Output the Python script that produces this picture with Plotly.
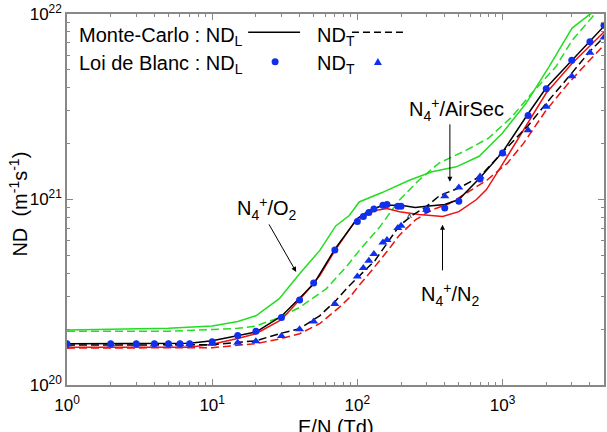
import plotly.graph_objects as go
import math

# ---------------- data ----------------
# Monte-Carlo, N4+/O2 (green)
EN_O2_L = [1, 2, 5, 10, 15, 20, 29, 40, 55, 71, 88, 103, 148, 228, 327, 480, 690, 993, 1453, 2093, 3013, 3945, 5000]
ND_O2_L = [1.98e20, 2.0e20, 2.02e20, 2.08e20, 2.2e20, 2.36e20, 2.92e20, 3.98e20, 5.3e20, 7.2e20, 8.2e20, 9.7e20,
           1.09e21, 1.27e21, 1.41e21, 1.50e21, 1.71e21, 2.27e21, 3.3e21, 5.2e21, 8.4e21, 9.9e21, 1.1e22]
EN_O2_T = [1, 5, 10, 15, 20, 29, 40, 61, 83, 103, 142, 194, 265, 365, 560, 800, 1160, 1590, 2330, 3013, 4180, 5000]
ND_O2_T = [1.95e20, 1.95e20, 1.99e20, 2.02e20, 2.08e20, 2.31e20, 2.62e20, 3.3e20, 4.3e20, 5.3e20, 7.08e20, 9.9e20,
           1.27e21, 1.57e21, 1.84e21, 2.14e21, 2.79e21, 3.74e21, 5.2e21, 7.2e21, 9.7e21, 1.15e22]

# Monte-Carlo, N4+/N2 (red)
EN_N2_L = [1, 7, 10, 15, 20, 30, 40, 55, 70, 95, 130, 160, 195, 266, 387, 500, 662, 775, 1000, 1450, 2000, 3000, 4200, 5000]
ND_N2_L = [1.60e20, 1.60e20, 1.66e20, 1.78e20, 1.89e20, 2.25e20, 2.88e20, 3.88e20, 5.3e20, 7.5e20, 8.7e20, 8.95e20,
           8.6e20, 8.3e20, 8.1e20, 8.6e20, 1.0e21, 1.13e21, 1.55e21, 2.5e21, 3.75e21, 5.4e21, 6.97e21, 8.0e21]
EN_N2_T = [1, 10, 20, 29, 40, 55, 75, 88, 103, 121, 165, 194, 253, 327, 430, 560, 780, 1080, 1390, 1980, 2820, 3780, 5000]
ND_N2_T = [1.58e20, 1.59e20, 1.67e20, 1.77e20, 1.89e20, 2.14e20, 2.62e20, 2.95e20, 3.45e20, 4.0e20, 5.4e20, 6.4e20,
           7.8e20, 8.8e20, 9.5e20, 1.08e21, 1.27e21, 1.57e21, 2.0e21, 3.0e21, 4.2e21, 5.4e21, 6.8e21]

# Monte-Carlo, N4+/AirSec (black)
EN_AIR_L = [1, 7, 10, 15, 20, 30, 40, 50, 70, 100, 120, 150, 200, 250, 300, 400, 500, 700, 1000, 1500, 2000, 3000, 4000, 5000]
ND_AIR_L = [1.67e20, 1.68e20, 1.73e20, 1.84e20, 1.93e20, 2.35e20, 2.96e20, 3.5e20, 5.4e20, 7.9e20, 8.7e20, 9.3e20,
            9.3e20, 9.05e20, 9.2e20, 9.4e20, 1.0e21, 1.31e21, 1.80e21, 2.9e21, 4.0e21, 5.6e21, 7.1e21, 8.6e21]
EN_AIR_T = [1, 10, 14, 20, 29, 40, 55, 71, 88, 103, 132, 165, 194, 238, 295, 369, 508, 700, 1000, 1500, 2000, 3000, 4000, 5000]
ND_AIR_T = [1.64e20, 1.65e20, 1.69e20, 1.73e20, 1.89e20, 2.01e20, 2.36e20, 2.85e20, 3.43e20, 3.88e20, 4.68e20, 6.0e20,
            7.2e20, 8.2e20, 9.1e20, 1.05e21, 1.16e21, 1.33e21, 1.8e21, 2.5e21, 3.3e21, 4.8e21, 6.3e21, 7.5e21]

# Loi de Blanc (blue markers)
EN_BLANC = [1, 2, 3, 4, 5, 6, 7, 10, 15, 20, 30, 40, 50, 70, 100, 110, 120, 130, 150, 160, 190, 200,
            300, 400, 500, 700, 1000, 1500, 2000, 3000, 4000, 5000]
ND_L_BLANC = [1.67e20, 1.67e20, 1.67e20, 1.67e20, 1.67e20, 1.67e20, 1.67e20, 1.71e20, 1.85e20, 1.95e20, 2.31e20,
              2.87e20, 3.55e20, 5.35e20, 7.6e20, 8.1e20, 8.5e20, 8.9e20, 9.3e20, 9.4e20, 9.2e20, 9.2e20,
              8.8e20, 9.0e20, 9.8e20, 1.29e21, 1.78e21, 2.84e21, 3.96e21, 5.64e21, 7.08e21, 8.7e21]
ND_T_BLANC = [1.66e20, 1.66e20, 1.66e20, 1.66e20, 1.66e20, 1.66e20, 1.66e20, 1.67e20, 1.69e20, 1.72e20, 1.84e20,
              2.0e20, 2.2e20, 2.73e20, 3.85e20, 4.27e20, 4.68e20, 5.08e20, 5.87e20, 6.05e20, 7.03e20, 7.23e20,
              8.8e20, 1.04e21, 1.16e21, 1.33e21, 1.77e21, 2.36e21, 3.16e21, 4.62e21, 6.18e21, 7.48e21]

X_TICKVALS = [1, 10, 100, 1000]
X_TICKTEXT = ["10<sup>0</sup>", "10<sup>1</sup>", "10<sup>2</sup>", "10<sup>3</sup>"]
Y_TICKVALS = [1e20, 1e21, 1e22]
Y_TICKTEXT = ["10<sup>20</sup>", "10<sup>21</sup>", "10<sup>22</sup>"]

# ---------------- style ----------------
FONT = "Liberation Sans, Arial, sans-serif"
GREEN = "#22dd22"
RED = "#ee1111"
BLACK = "#000000"
BLUE = "#1030ee"
AXC = "#888888"
DASH = "8px,4px"

fig = go.Figure()

def line(x, y, color, dash):
    fig.add_trace(go.Scatter(x=x, y=y, mode="lines", showlegend=False,
                             line=dict(color=color, width=1.5, dash=dash)))

line(EN_O2_T, ND_O2_T, GREEN, DASH)
line(EN_O2_L, ND_O2_L, GREEN, "solid")
line(EN_N2_T, ND_N2_T, RED, DASH)
line(EN_N2_L, ND_N2_L, RED, "solid")
line(EN_AIR_T, ND_AIR_T, BLACK, DASH)
line(EN_AIR_L, ND_AIR_L, BLACK, "solid")

fig.add_trace(go.Scatter(x=EN_BLANC, y=ND_T_BLANC, mode="markers", showlegend=False,
                         marker=dict(symbol="triangle-up", size=8, color=BLUE)))
fig.add_trace(go.Scatter(x=EN_BLANC, y=ND_L_BLANC, mode="markers", showlegend=False,
                         marker=dict(symbol="circle", size=7, color=BLUE)))

minor_x = [float(m * 10 ** d) for d in range(0, 4) for m in range(2, 10) if m * 10 ** d < 5000]
minor_y = [m * 10.0 ** d for d in (20, 21) for m in range(2, 10)]

fig.update_xaxes(type="log", range=[0, math.log10(5000)], tickvals=X_TICKVALS, ticktext=X_TICKTEXT,
                 ticks="inside", ticklen=6, tickwidth=1, tickcolor=AXC, showline=True, linecolor=AXC,
                 linewidth=1.5, mirror="ticks", showgrid=False, zeroline=False, ticklabelstandoff=4,
                 tickfont=dict(family=FONT, size=17, color="black"),
                 minor=dict(tickvals=minor_x, ticks="inside", ticklen=3, tickcolor=AXC, showgrid=False))
fig.update_yaxes(type="log", range=[20, 22], tickvals=Y_TICKVALS, ticktext=Y_TICKTEXT,
                 ticks="inside", ticklen=6, tickwidth=1, tickcolor=AXC, showline=True, linecolor=AXC,
                 linewidth=1.5, mirror="ticks", showgrid=False, zeroline=False,
                 tickfont=dict(family=FONT, size=17, color="black"),
                 minor=dict(tickvals=minor_y, ticks="inside", ticklen=3, tickcolor=AXC, showgrid=False))

L, R, T, B = 66.5, 2.5, 14, 47
W, H = 607, 432
PW, PH = W - L - R, H - T - B

def px(x):
    return (x - L) / PW

def py(y):
    return (H - B - y) / PH

ann = []
def text(s, x, y, size=20, xanchor="center", yanchor="middle", **kw):
    ann.append(dict(text=s, x=px(x), y=py(y), xref="paper", yref="paper", showarrow=False,
                    xanchor=xanchor, yanchor=yanchor, font=dict(family=FONT, size=size, color="black"), **kw))

# axis titles
text("E/N (Td)", 336, 427)
text("ND\u00a0\u00a0(m<sup>-1</sup>s<sup>-1</sup>)", 17, 204, textangle=-90)

# legend
text("Monte-Carlo : ND<sub>L</sub>", 77, 36, xanchor="left")
text("ND<sub>T</sub>", 315, 36, xanchor="left")
text("Loi de Blanc : ND<sub>L</sub>", 77, 65, xanchor="left")
text("ND<sub>T</sub>", 315, 65, xanchor="left")

# curve labels
text("N<sub>4</sub><sup>+</sup>/O<sub>2</sub>", 267, 208)
text("N<sub>4</sub><sup>+</sup>/AirSec", 457, 109)
text("N<sub>4</sub><sup>+</sup>/N<sub>2</sub>", 450, 294)
text("^", 410, 218, size=10)

def arrow(xd, yd, ax, ay):
    ann.append(dict(x=math.log10(xd), y=math.log10(yd), xref="x", yref="y", ax=ax, ay=ay,
                    text="", showarrow=True, arrowhead=2,
                    arrowsize=1, arrowwidth=1, arrowcolor="black"))

arrow(37.9, 4.07e20, -28, -49)
arrow(434, 1.245e21, 0, -59)
arrow(386, 7.3e20, 0, 47)

shapes = [
    dict(type="line", xref="paper", yref="paper", x0=px(248), x1=px(300), y0=py(32.3), y1=py(32.3),
         line=dict(color="black", width=1.5)),
    dict(type="line", xref="paper", yref="paper", x0=px(352), x1=px(407), y0=py(32.3), y1=py(32.3),
         line=dict(color="black", width=1.5, dash="7px,4px")),
    dict(type="circle", xref="paper", yref="paper", xsizemode="pixel", ysizemode="pixel",
         xanchor=px(275), yanchor=py(61.7), x0=-3.5, x1=3.5, y0=-3.5, y1=3.5,
         fillcolor=BLUE, line=dict(width=0)),
    dict(type="path", xref="paper", yref="paper", xsizemode="pixel", ysizemode="pixel",
         xanchor=px(378), yanchor=py(61.5), path="M -4 -3.5 L 4 -3.5 L 0 3.5 Z",
         fillcolor=BLUE, line=dict(width=0)),
]

fig.update_layout(width=W, height=H, margin=dict(l=L, r=R, t=T, b=B, autoexpand=False),
                  paper_bgcolor="white", plot_bgcolor="white", annotations=ann, shapes=shapes,
                  font=dict(family=FONT, color="black"), showlegend=False)

fig.write_html("out.html")
